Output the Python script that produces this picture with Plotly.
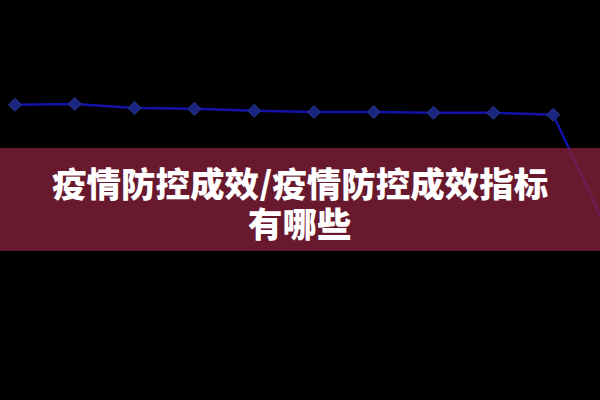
import plotly.graph_objects as go

# points along the line (last one falls off the right edge)
idx = [0, 1, 2, 3, 4, 5, 6, 7, 8, 9, 10]
vals = [73.8, 74.0, 73.0, 72.8, 72.3, 72.0, 72.0, 71.8, 71.8, 71.3, 39.3]
title_lines = ["疫情防控成效/疫情防控成效指标", "有哪些"]
line_y = [182, 222]  # pixel centres of the two title lines

fig = go.Figure()
fig.add_trace(go.Scatter(
    x=idx, y=vals, mode="lines+markers",
    line=dict(color="#1212a8", width=2.5),
    marker=dict(symbol="diamond", size=10, color="#1a2680",
                line=dict(color="#2a3890", width=1)),
    cliponaxis=False, showlegend=False,
))

# maroon band over the chart, slightly see-through
fig.add_shape(type="rect", xref="paper", yref="paper",
              x0=0, x1=1, y0=1 - 251 / 400, y1=1 - 148 / 400,
              fillcolor="rgba(131,31,56,0.8)", line_width=0, layer="above")

for txt, py in zip(title_lines, line_y):
    fig.add_annotation(
        text="<b>" + txt + "</b>", xref="paper", yref="paper",
        x=0.5, y=1 - py / 400, xanchor="center", yanchor="middle",
        showarrow=False, height=38, borderpad=0,
        font=dict(family="Noto Sans CJK SC Black, Noto Sans CJK SC", size=34.5,
                  color="white", weight=900),
    )

fig.update_xaxes(range=[-0.251, 9.783], visible=False)
fig.update_yaxes(range=[0, 100], visible=False)
fig.update_layout(
    width=600, height=400, margin=dict(l=0, r=0, t=0, b=0),
    paper_bgcolor="black", plot_bgcolor="black",
)
fig.write_html("out.html", config={"displayModeBar": False},
               post_script="document.body.style.margin='0';document.body.style.background='black';")
